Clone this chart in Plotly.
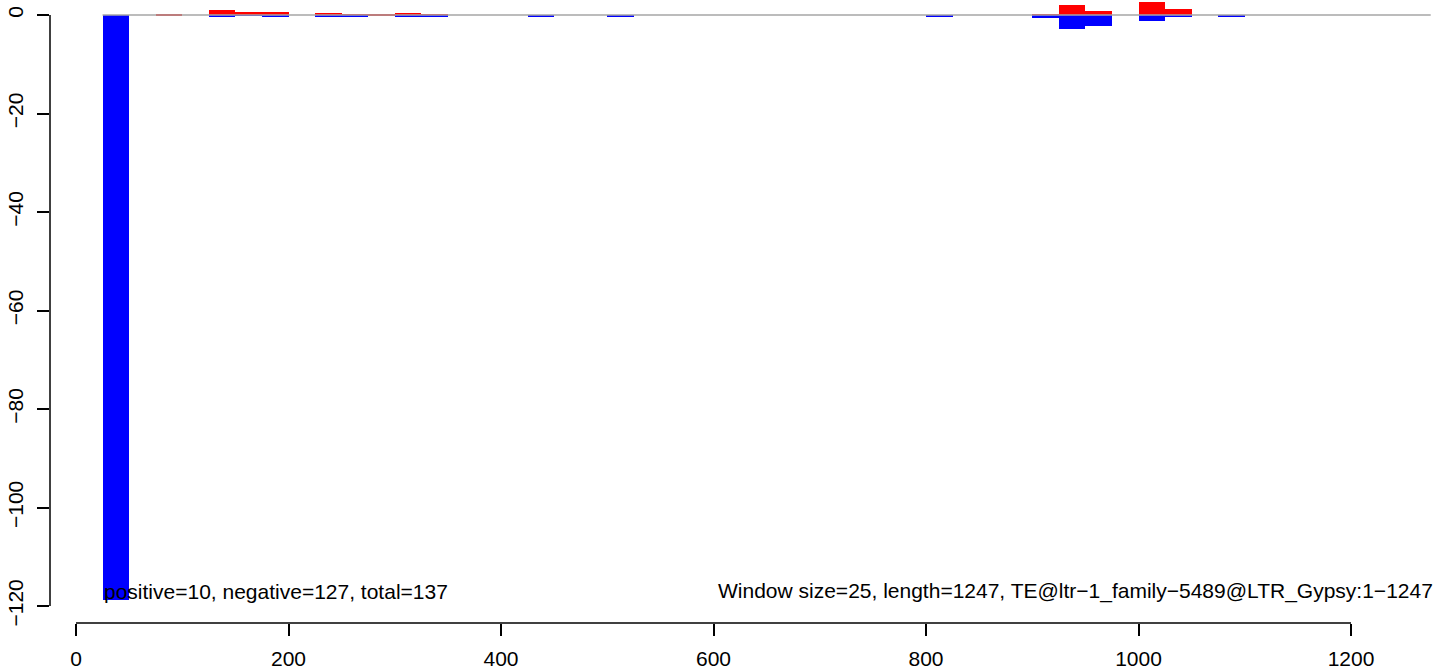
import plotly.graph_objects as go

# ---- data ----
window_size = 25
seq_length = 1247
window_start = [25, 75, 125, 150, 175, 225, 250, 275, 300, 325, 425, 500,
                800, 900, 925, 950, 1000, 1025, 1075]
positive = [0.0, 0.2, 1.0, 0.6, 0.6, 0.4, 0.2, 0.15, 0.4, 0.2, 0.0, 0.0,
            0.0, 0.2, 2.0, 0.8, 2.6, 1.2, 0.0]
negative = [-118.8, 0.0, -0.2, -0.15, -0.4, -0.4, -0.2, 0.0, -0.4, -0.2, -0.2, -0.2,
            -0.2, -0.6, -2.8, -2.2, -1.2, -0.4, -0.2]
baseline_x = [25, 1275]
baseline_y = [0, 0]
x_ticks = [0, 200, 400, 600, 800, 1000, 1200]
y_ticks = [0, -20, -40, -60, -80, -100, -120]
left_label = "positive=10, negative=127, total=137"
right_label = "Window size=25, length=1247, TE@ltr\u22121_family\u22125489@LTR_Gypsy:1\u22121247"

centers = [s + window_size / 2 for s in window_start]
FONT = "Liberation Sans, Arial, Helvetica, sans-serif"
FS = 21

fig = go.Figure()
fig.add_trace(go.Scatter(x=baseline_x, y=baseline_y, mode="lines",
                         line=dict(color="#A6A6A6", width=1.5), hoverinfo="skip",
                         showlegend=False))
fig.add_trace(go.Bar(x=centers, y=positive, width=window_size, base=0,
                     marker=dict(color="#FF0000", line=dict(width=0)), showlegend=False))
fig.add_trace(go.Bar(x=centers, y=negative, width=window_size, base=0,
                     marker=dict(color="#0000FF", line=dict(width=0)), showlegend=False))

# R-style axis lines spanning only the tick range
fig.add_shape(type="line", xref="x", yref="paper", x0=x_ticks[0], x1=x_ticks[-1], y0=0, y1=0,
              line=dict(color="black", width=1.5))
fig.add_shape(type="line", xref="paper", yref="y", x0=0, x1=0, y0=y_ticks[-1], y1=y_ticks[0],
              line=dict(color="black", width=1.5))

fig.add_annotation(x=window_start[0], y=min(negative), text=left_label, showarrow=False,
                   xanchor="left", yanchor="bottom", yshift=-5, xshift=-1,
                   font=dict(family=FONT, size=FS, color="black"))
fig.add_annotation(x=baseline_x[-1], y=min(negative), text=right_label, showarrow=False,
                   xanchor="right", yanchor="bottom", yshift=-5, xshift=4,
                   font=dict(family=FONT, size=FS, color="black"))

fig.update_layout(
    width=1444, height=669,
    margin=dict(l=50, r=0, t=0, b=46),
    plot_bgcolor="white", paper_bgcolor="white",
    barmode="overlay", bargap=0,
    showlegend=False,
    font=dict(family=FONT, size=FS, color="black"),
)
fig.update_xaxes(range=[-24.47, 1287.5], showgrid=False, zeroline=False, showline=False,
                 tickmode="array", tickvals=x_ticks, ticktext=[str(v) for v in x_ticks],
                 ticks="outside", ticklen=12, tickwidth=1.5, tickcolor="black",
                 ticklabelstandoff=5, tickfont=dict(family=FONT, size=FS))
fig.update_yaxes(range=[-123.45, 3.05], showgrid=False, zeroline=False, showline=False,
                 tickmode="array", tickvals=y_ticks,
                 ticktext=[str(v).replace("-", "\u2212") for v in y_ticks],
                 ticks="outside", ticklen=12, tickwidth=1.5, tickcolor="black",
                 tickangle=-90, ticklabelstandoff=6, tickfont=dict(family=FONT, size=FS))

fig.write_html("out.html", config={"displayModeBar": False},
               post_script="document.body.style.margin='0';document.body.style.overflow='hidden';")
